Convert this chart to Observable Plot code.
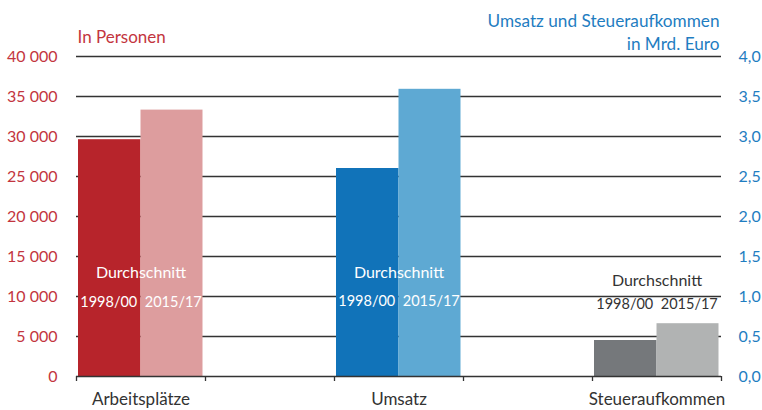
<!DOCTYPE html>
<html>
<head>
<meta charset="utf-8">
<script src="https://cdn.jsdelivr.net/npm/d3@7"></script>
<script src="https://cdn.jsdelivr.net/npm/@observablehq/plot@0.6"></script>
<style>
  html, body { margin: 0; padding: 0; background: #fff; }
  #chart svg { display: block; font-family: Lato, "Open Sans", sans-serif; }
</style>
</head>
<body>
<div id="chart"></div>
<script>
// ---- Data ----
const categories = ["Arbeitsplätze", "Umsatz", "Steueraufkommen"];
const slots = ["Arbeitsplätze", "", "Umsatz", " ", "Steueraufkommen"];
const periods = ["1998/00", "2015/17"];
const arbeitsplaetze = [29600, 33300];   // persons
const umsatz = [2.6, 3.59];              // Mrd. Euro
const steueraufkommen = [0.45, 0.66];    // Mrd. Euro
const leftTicks = [0, 5000, 10000, 15000, 20000, 25000, 30000, 35000, 40000];
const rightTicks = [0, 0.5, 1.0, 1.5, 2.0, 2.5, 3.0, 3.5, 4.0];
const leftTitle = "In Personen";
const rightTitle = ["Umsatz und Steueraufkommen", "in Mrd. Euro"];
const averageLabel = "Durchschnitt";

const PERSONS_PER_UNIT = 10000; // 40 000 persons <-> 4,0 Mrd. Euro

// ---- Styles ----
const RED = "#c3353e";
const BLUE = "#1f7dc1";
const INK = "#333333";
const colors = {
  "Arbeitsplätze": ["#b7242b", "#dd9d9e"],
  "Umsatz": ["#1173b9", "#5ea9d3"],
  "Steueraufkommen": ["#75787b", "#b1b3b3"]
};
const labelColor = {"Arbeitsplätze": "#ffffff", "Umsatz": "#ffffff", "Steueraufkommen": INK};
const labelOffsets = {"Arbeitsplätze": [-104, -74], "Umsatz": [-104, -75], "Steueraufkommen": [-96, -72]};
const labelSizes = [16, 14.5];

// ---- Table ----
const series = {"Arbeitsplätze": arbeitsplaetze.map(v => v / PERSONS_PER_UNIT), "Umsatz": umsatz, "Steueraufkommen": steueraufkommen};
const rows = categories.flatMap(c => periods.map((p, i) => ({category: c, period: p, pi: i, value: series[c][i]})));
const slot = c => slots.indexOf(c);

const locale = d3.formatLocale({decimal: ",", thousands: " ", grouping: [3], currency: ["", " €"]});
const fmtLeft = locale.format(",");
const fmtRight = locale.format(".1f");

const labelRows = categories.flatMap(c => [
  {category: c, text: averageLabel, x: slot(c) + 0.5, row: 0},
  ...periods.map((p, i) => ({category: c, text: p, x: slot(c) + 0.25 + 0.5 * i, row: 1}))
]);

const barMark = (pi, insets) => Plot.rectY(rows.filter(d => d.pi === pi), {
  x1: d => slot(d.category) + 0.5 * d.pi,
  x2: d => slot(d.category) + 0.5 * (d.pi + 1),
  y1: 0,
  y2: "value",
  fill: d => colors[d.category][d.pi],
  ...insets
});

const chart = Plot.plot({
  width: 762,
  height: 410,
  marginLeft: 76,
  marginRight: 41,
  marginTop: 56,
  marginBottom: 34,
  style: {fontFamily: "Lato, 'Open Sans', sans-serif", background: "#fff"},
  x: {domain: [0, slots.length], axis: null},
  y: {domain: [0, 4], axis: null},
  marks: [
    Plot.ruleY(rightTicks.slice(1), {stroke: INK, strokeWidth: 1.3}),
    barMark(0, {insetLeft: 2}),
    barMark(1, {insetRight: 2.5}),
    Plot.ruleY([0], {stroke: INK, strokeWidth: 1.3}),
    Plot.axisX({ticks: d3.range(0, slots.length + 1), tickFormat: () => "", tickSize: 5, stroke: INK, strokeWidth: 1.3, label: null}),
    Plot.axisY({anchor: "left", ticks: rightTicks, tickSize: 0, tickPadding: 19, label: null,
      tickFormat: d => fmtLeft(Math.round(d * PERSONS_PER_UNIT)), color: RED, fontSize: 16}),
    Plot.axisY({anchor: "right", ticks: rightTicks, tickSize: 0, tickPadding: 17, label: null,
      tickFormat: d => fmtRight(d), color: BLUE, fontSize: 16}),
    Plot.text(categories, {x: d => slot(d) + 0.5, frameAnchor: "bottom", lineAnchor: "middle", dy: 23, fill: INK, fontSize: 17}),
    ...labelRows.map(d => Plot.text([d], {
      x: "x", frameAnchor: "bottom", lineAnchor: "middle", text: "text",
      dy: labelOffsets[d.category][d.row],
      fill: labelColor[d.category], fontSize: labelSizes[d.row]
    })),
    Plot.text([leftTitle], {frameAnchor: "top-left", lineAnchor: "middle", dx: 1, dy: -19, textAnchor: "start", fill: RED, fontSize: 17}),
    Plot.text([rightTitle[0]], {frameAnchor: "top-right", lineAnchor: "middle", dx: -2, dy: -35, textAnchor: "end", fill: BLUE, fontSize: 17.2}),
    Plot.text([rightTitle[1]], {frameAnchor: "top-right", lineAnchor: "middle", dx: -2, dy: -12.5, textAnchor: "end", fill: BLUE, fontSize: 17.2})
  ]
});
document.getElementById("chart").appendChild(chart);
</script>
</body>
</html>
